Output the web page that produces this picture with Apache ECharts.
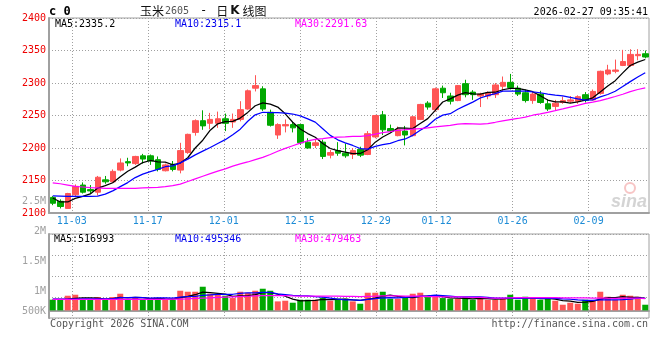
<!DOCTYPE html>
<html><head><meta charset="utf-8">
<script src="https://cdn.jsdelivr.net/npm/echarts@6/dist/echarts.min.js"></script>
<style>html,body{margin:0;padding:0;background:#fff}#c{width:660px;height:360px}</style>
</head><body><div id="c"></div>
<script>
// ---- data ----
const dates = ['10-29','10-30','10-31',
 '11-03','11-04','11-05','11-06','11-07','11-10','11-11','11-12','11-13','11-14',
 '11-17','11-18','11-19','11-20','11-21','11-24','11-25','11-26','11-27','11-28',
 '12-01','12-02','12-03','12-04','12-05','12-08','12-09','12-10','12-11','12-12',
 '12-15','12-16','12-17','12-18','12-19','12-22','12-23','12-24','12-25','12-26',
 '12-29','12-30','12-31',
 '01-05','01-06','01-07','01-08','01-09','01-12','01-13','01-14','01-15','01-16',
 '01-19','01-20','01-21','01-22','01-23','01-26','01-27','01-28','01-29','01-30',
 '02-02','02-03','02-04','02-05','02-06','02-09','02-10','02-11','02-12','02-13',
 '02-24','02-25','02-26','02-27'];
const dateTicks = ['11-03','11-17','12-01','12-15','12-29','01-12','01-26','02-09'];

const open  = [2124,2118,2107,2128,2143,2136,2132,2151,2148,2166,2179,2176,2188,2188,2182,2165,2175,2166,2193,2224,
               2242,2238,2238,2245,2240,2244,2260,2292,2291,2255,2220,2234,2236,2236,2209,2204,2209,2189,2196,2192,
               2190,2198,2190,2217,2251,2230,2219,2226,2219,2244,2269,2259,2292,2280,2273,2299,2286,2280,2280,2282,
               2295,2301,2292,2285,2273,2283,2268,2264,2270,2272,2272,2282,2274,2284,2314,2318,2327,2327,2342,2345];
const close = [2115,2110,2130,2141,2132,2134,2155,2148,2164,2177,2177,2187,2183,2180,2167,2174,2167,2196,2221,2242,
               2234,2244,2245,2238,2244,2259,2288,2296,2260,2235,2236,2236,2231,2208,2200,2208,2187,2193,2192,2188,
               2196,2189,2222,2250,2228,2226,2228,2220,2248,2267,2263,2291,2285,2272,2296,2282,2282,2283,2285,2297,
               2301,2293,2283,2273,2283,2270,2260,2269,2273,2274,2279,2273,2287,2318,2320,2320,2333,2344,2344,2340];
const high  = [2126,2121,2131,2144,2147,2143,2157,2157,2167,2184,2185,2188,2191,2190,2187,2176,2180,2208,2222,2244,
               2258,2254,2256,2253,2253,2272,2290,2312,2295,2259,2238,2244,2240,2237,2215,2213,2213,2197,2209,2207,
               2200,2202,2226,2251,2257,2236,2233,2234,2249,2268,2272,2293,2296,2285,2297,2305,2289,2285,2287,2300,
               2310,2314,2296,2290,2287,2288,2275,2274,2279,2280,2281,2286,2290,2319,2328,2336,2351,2352,2352,2350];
const low   = [2112,2107,2107,2126,2130,2130,2127,2145,2146,2164,2172,2174,2176,2174,2164,2164,2164,2161,2191,2219,
               2228,2229,2231,2226,2231,2241,2259,2287,2257,2233,2214,2224,2224,2205,2199,2200,2183,2184,2188,2185,
               2183,2186,2189,2215,2220,2223,2218,2204,2218,2243,2259,2256,2277,2267,2272,2278,2274,2263,2275,2277,
               2287,2290,2280,2270,2268,2268,2257,2257,2268,2269,2268,2270,2273,2282,2312,2315,2326,2325,2335,2338];

const ma5  = [2123,2117,2117,2122.5,2125.6,2129.4,2138.4,2142.0,2146.6,2155.6,2164.2,2170.6,2177.6,2180.8,2178.8,2178.2,2174.2,2176.8,2185.0,2200.0,
              2212.0,2227.4,2237.2,2240.6,2241.0,2246.0,2254.8,2265.0,2269.4,2267.6,2263.0,2252.6,2239.6,2229.2,2222.2,2216.6,2206.8,2199.2,2196.0,2193.6,
              2191.2,2191.6,2197.4,2209.0,2217.0,2223.0,2230.8,2230.4,2230.0,2237.8,2245.2,2257.8,2270.8,2275.6,2281.4,2285.2,2283.4,2283.0,2285.6,2285.8,
              2289.6,2291.8,2291.8,2289.4,2286.6,2280.4,2273.8,2271.0,2271.0,2269.2,2271.0,2273.6,2277.2,2286.2,2295.4,2303.6,2315.6,2327.0,2332.2,2336.2];
const ma10 = [2126.5,2126,2125.5,2125.5,2125.5,2125.5,2126,2129,2134,2140.6,2146.8,2154.5,2159.8,2163.7,2167.2,2171.2,2172.4,2177.2,2182.9,2189.4,
              2195.1,2200.8,2207.0,2212.8,2220.5,2229.0,2241.1,2251.1,2255.0,2254.3,2254.5,2253.7,2252.3,2249.3,2244.9,2239.8,2229.7,2219.4,2212.6,2207.9,
              2203.9,2199.2,2198.3,2202.5,2205.3,2207.1,2211.2,2213.9,2219.5,2227.4,2234.1,2244.3,2250.6,2252.8,2259.6,2265.2,2270.6,2276.9,2280.6,2283.6,
              2287.4,2287.6,2287.4,2287.5,2286.2,2285.0,2282.8,2281.4,2280.2,2277.9,2275.7,2273.7,2274.1,2278.6,2282.3,2287.3,2294.6,2302.1,2309.2,2315.8];
const ma30 = [2146.5,2145,2143,2141,2140,2139,2138.5,2138,2138,2138,2138,2138,2138.5,2139,2139.5,2140.5,2142,2144.5,2148.5,2152.5,
              2156.5,2160.5,2164.5,2168,2172,2175.5,2178.5,2182,2185.5,2190,2195,2199.5,2203.5,2207.5,2210.9,2213.3,2214.4,2215.9,2216.8,2217.2,
              2217.8,2217.9,2219.2,2221.5,2223.6,2225.3,2227.3,2228.1,2229.0,2229.9,2230.8,2232.4,2233.7,2234.9,2236.6,2237.4,2237.2,2236.7,2237.6,2239.6,
              2241.8,2243.7,2245.4,2247.6,2250.4,2252.4,2254.9,2257.4,2260.1,2263.0,2265.7,2268.5,2270.7,2273.0,2276.0,2279.2,2282.7,2286.8,2290.0,2292.4];

// volume, thousands of lots
const volK = [448,448,616,658,448,448,560,448,560,700,476,560,476,518,518,448,448,826,784,784,
              994,700,658,616,518,784,742,826,910,826,378,406,322,448,448,448,532,406,490,490,
              378,280,742,742,784,490,490,560,700,742,560,616,518,490,490,560,448,560,448,448,
              518,658,448,574,532,448,532,406,238,322,280,448,406,784,574,448,658,616,574,238];
const volMa5K  = [465,462,470,500,524,524,512,470,493,543,526,549,532,496,504,482,476,538,591,658,
                  767,742,717,683,588,605,622,664,742,750,678,594,476,400,414,423,465,456,465,473,
                  442,417,468,518,599,641,591,554,538,588,602,613,577,526,512,501,487,501,493,470,
                  484,504,504,529,532,490,507,473,414,389,339,347,381,473,532,532,582,549,549,507];
const volMa10K = [478,476,476,478,480,480,482,484,486,533,536,547,533,519,526,526,515,553,575,584,
                  636,650,668,678,678,711,741,741,753,757,696,666,633,616,609,575,554,512,470,437,
                  437,424,466,496,529,533,529,545,566,591,609,643,620,595,566,573,568,568,543,514,
                  510,514,507,515,519,508,517,501,480,468,444,423,419,440,444,444,456,477,511,503];
const volMa30K = [462,462,462,462,462,462,462,462,462,462,462,462,462,462,462,465,470,478,488,500,
                  515,530,545,558,570,582,594,606,616,625,623,621,611,604,604,604,603,602,600,593,
                  589,580,589,596,605,607,608,599,596,595,581,578,573,569,568,560,551,542,526,514,
                  518,527,531,535,538,538,538,538,530,524,521,526,515,517,510,508,514,516,511,495];

const priceTicks = [2100,2150,2200,2250,2300,2350,2400];
const volTickValues = [500000,1000000,1500000,2000000,2500000];
const volTickLabels = ['500K','1M','1.5M','2M','2.5M'];
const priceMaTexts = ['MA5:2335.2','MA10:2315.1','MA30:2291.63'];
const volMaTexts = ['MA5:516993','MA10:495346','MA30:479463'];

// ---- styling / layout ----
const UP = '#ff5555', DOWN = '#00a800';
const MONO = '"DejaVu Sans Mono", "Liberation Mono", monospace';
const GRIDC = '#a0a0a0';
const L = 49, W = 600;
const gridStepSlots = W / 7.6;            // sina spaces its date grid 7.6px per day
const tickIdx = dateTicks.map(d => dates.indexOf(d));
const dotted = {type: [1, 2], color: GRIDC, width: 1};
const LW = 1.25;

const chart = echarts.init(document.getElementById('c'), null, {renderer: 'canvas'});
chart.setOption({
  animation: false,
  backgroundColor: '#fff',
  textStyle: {fontFamily: MONO},
  grid: [
    {left: L, top: 18, width: W, height: 195, show: true, borderColor: GRIDC, borderWidth: 1},
    {left: L, top: 234, width: W, height: 84, show: true, borderColor: GRIDC, borderWidth: 1},
    {left: L, top: 201, width: W, height: 120, show: false}
  ],
  xAxis: [
    {type: 'category', gridIndex: 0, data: dates, boundaryGap: true,
     axisLine: {show: true, lineStyle: {color: GRIDC, width: 2}}, axisTick: {show: false},
     axisLabel: {show: false}, splitLine: {show: false}},
    {type: 'value', gridIndex: 0, min: 0, max: gridStepSlots, position: 'bottom',
     axisLine: {show: false}, axisTick: {show: false, customValues: tickIdx},
     axisLabel: {show: true, customValues: tickIdx, formatter: v => dates[Math.round(v)],
                 color: '#1e8cd6', fontFamily: MONO, fontSize: 10, margin: 3},
     splitLine: {show: true, lineStyle: dotted}},
    {type: 'category', gridIndex: 1, data: dates, boundaryGap: true,
     axisLine: {show: true, lineStyle: {color: GRIDC, width: 2}}, axisTick: {show: false},
     axisLabel: {show: false}, splitLine: {show: false}},
    {type: 'value', gridIndex: 1, min: 0, max: gridStepSlots,
     axisLine: {show: false}, axisTick: {show: false, customValues: tickIdx},
     axisLabel: {show: false}, splitLine: {show: true, lineStyle: dotted}},
    {type: 'value', gridIndex: 2, min: 0, max: 1, show: false}
  ],
  yAxis: [
    {type: 'value', gridIndex: 0, min: priceTicks[0], max: priceTicks[priceTicks.length - 1], interval: 50,
     axisLine: {show: true, lineStyle: {color: GRIDC, width: 2}}, axisTick: {show: false},
     axisLabel: {color: '#ee0000', fontFamily: MONO, fontSize: 10, margin: 3, padding: [0, 0, 3, 0],
                 formatter: v => String(v)},
     splitLine: {show: true, lineStyle: dotted}},
    {type: 'value', gridIndex: 1, min: -320, max: 3210,
     axisLine: {show: true, lineStyle: {color: GRIDC, width: 2}}, axisTick: {show: false},
     axisLabel: {show: false}, splitLine: {show: false}},
    {type: 'value', gridIndex: 1, min: 0, max: 4, interval: 1,
     axisLine: {show: false}, axisTick: {show: false}, axisLabel: {show: false},
     splitLine: {show: true, lineStyle: dotted}},
    {type: 'value', gridIndex: 2, min: volTickValues[0], max: volTickValues[volTickValues.length - 1], interval: 500000,
     axisLine: {show: false}, axisTick: {show: false}, splitLine: {show: false},
     axisLabel: {color: '#a0a0a0', fontFamily: MONO, fontSize: 10, margin: 3,
       formatter: v => {
         const i = volTickValues.indexOf(v);
         const t = i >= 0 ? volTickLabels[i] : '';
         return i === 0 ? '{low|' + t + '}' : t;
       },
       rich: {low: {color: '#a0a0a0', fontFamily: MONO, fontSize: 10, padding: [0, 0, 20, 0]}}}}
  ],
  series: [
    {type: 'candlestick', xAxisIndex: 0, yAxisIndex: 0, barWidth: 6, silent: true,
     data: open.map((o, i) => [o, close[i], low[i], high[i]]),
     itemStyle: {color: UP, color0: DOWN, borderColor: UP, borderColor0: DOWN, borderWidth: 1}},
    {type: 'line', xAxisIndex: 0, yAxisIndex: 0, data: ma5, symbol: 'none', silent: true,
     lineStyle: {color: '#000000', width: LW}},
    {type: 'line', xAxisIndex: 0, yAxisIndex: 0, data: ma10, symbol: 'none', silent: true,
     lineStyle: {color: '#0000ff', width: LW}},
    {type: 'line', xAxisIndex: 0, yAxisIndex: 0, data: ma30, symbol: 'none', silent: true,
     lineStyle: {color: '#ff00ff', width: LW}},
    {type: 'bar', xAxisIndex: 2, yAxisIndex: 1, barWidth: 6, silent: true,
     data: volK.map((v, i) => ({value: v, itemStyle: {color: close[i] >= open[i] ? UP : DOWN}}))},
    {type: 'line', xAxisIndex: 2, yAxisIndex: 1, data: volMa5K, symbol: 'none', silent: true,
     lineStyle: {color: '#000000', width: LW}},
    {type: 'line', xAxisIndex: 2, yAxisIndex: 1, data: volMa10K, symbol: 'none', silent: true,
     lineStyle: {color: '#0000ff', width: LW}},
    {type: 'line', xAxisIndex: 2, yAxisIndex: 1, data: volMa30K, symbol: 'none', silent: true,
     lineStyle: {color: '#ff00ff', width: LW}}
  ],
  graphic: [
    {type: 'text', silent: true, style: {x: 49, y: 12, text: 'c 0', fill: '#000',
      font: 'bold 12px ' + MONO, verticalAlign: 'middle'}},
    {type: 'text', silent: true, style: {x: 140, y: 11, verticalAlign: 'middle',
      text: '{a|玉米}{b|2605}{d|-}{a|日}{k|K}{a|线图}',
      rich: {a: {fontSize: 12, fontFamily: '"Noto Sans CJK SC"', fill: '#111'},
             b: {fontSize: 10, fontFamily: MONO, fill: '#555', padding: [0, 0, 0, 1]},
             d: {fontSize: 12, fontFamily: MONO, fill: '#111', padding: [0, 9, 0, 11]},
             k: {fontSize: 12, fontWeight: 'bold', fontFamily: '"DejaVu Sans"', fill: '#111', padding: [0, 3, 0, 2]}}}},
    {type: 'text', silent: true, style: {x: 648, y: 12, text: '2026-02-27 09:35:41', fill: '#000',
      font: '10px ' + MONO, align: 'right', verticalAlign: 'middle'}},
    {type: 'text', silent: true, style: {x: 55, y: 24, text: priceMaTexts[0], fill: '#000', font: '10px ' + MONO, verticalAlign: 'middle'}},
    {type: 'text', silent: true, style: {x: 175, y: 24, text: priceMaTexts[1], fill: '#0000ee', font: '10px ' + MONO, verticalAlign: 'middle'}},
    {type: 'text', silent: true, style: {x: 295, y: 24, text: priceMaTexts[2], fill: '#ff00ff', font: '10px ' + MONO, verticalAlign: 'middle'}},
    {type: 'text', silent: true, style: {x: 54, y: 239, text: volMaTexts[0], fill: '#000', font: '10px ' + MONO, verticalAlign: 'middle'}},
    {type: 'text', silent: true, style: {x: 175, y: 239, text: volMaTexts[1], fill: '#0000ee', font: '10px ' + MONO, verticalAlign: 'middle'}},
    {type: 'text', silent: true, style: {x: 295, y: 239, text: volMaTexts[2], fill: '#ff00ff', font: '10px ' + MONO, verticalAlign: 'middle'}},
    {type: 'text', silent: true, style: {x: 50, y: 324, text: 'Copyright 2026 SINA.COM', fill: '#555', font: '10px ' + MONO, verticalAlign: 'middle'}},
    {type: 'text', silent: true, style: {x: 648, y: 324, text: 'http://finance.sina.com.cn', fill: '#555', font: '10px ' + MONO, align: 'right', verticalAlign: 'middle'}},
    {type: 'text', silent: true, style: {x: 647, y: 202, text: 'sina', fill: 'rgba(170,170,170,0.5)', font: 'italic bold 18px "Liberation Sans"', align: 'right', verticalAlign: 'middle'}},
    {type: 'circle', silent: true, shape: {cx: 630, cy: 188, r: 5}, style: {fill: 'none', stroke: 'rgba(240,140,140,0.5)', lineWidth: 2}}
  ]
});
</script>
</body></html>
